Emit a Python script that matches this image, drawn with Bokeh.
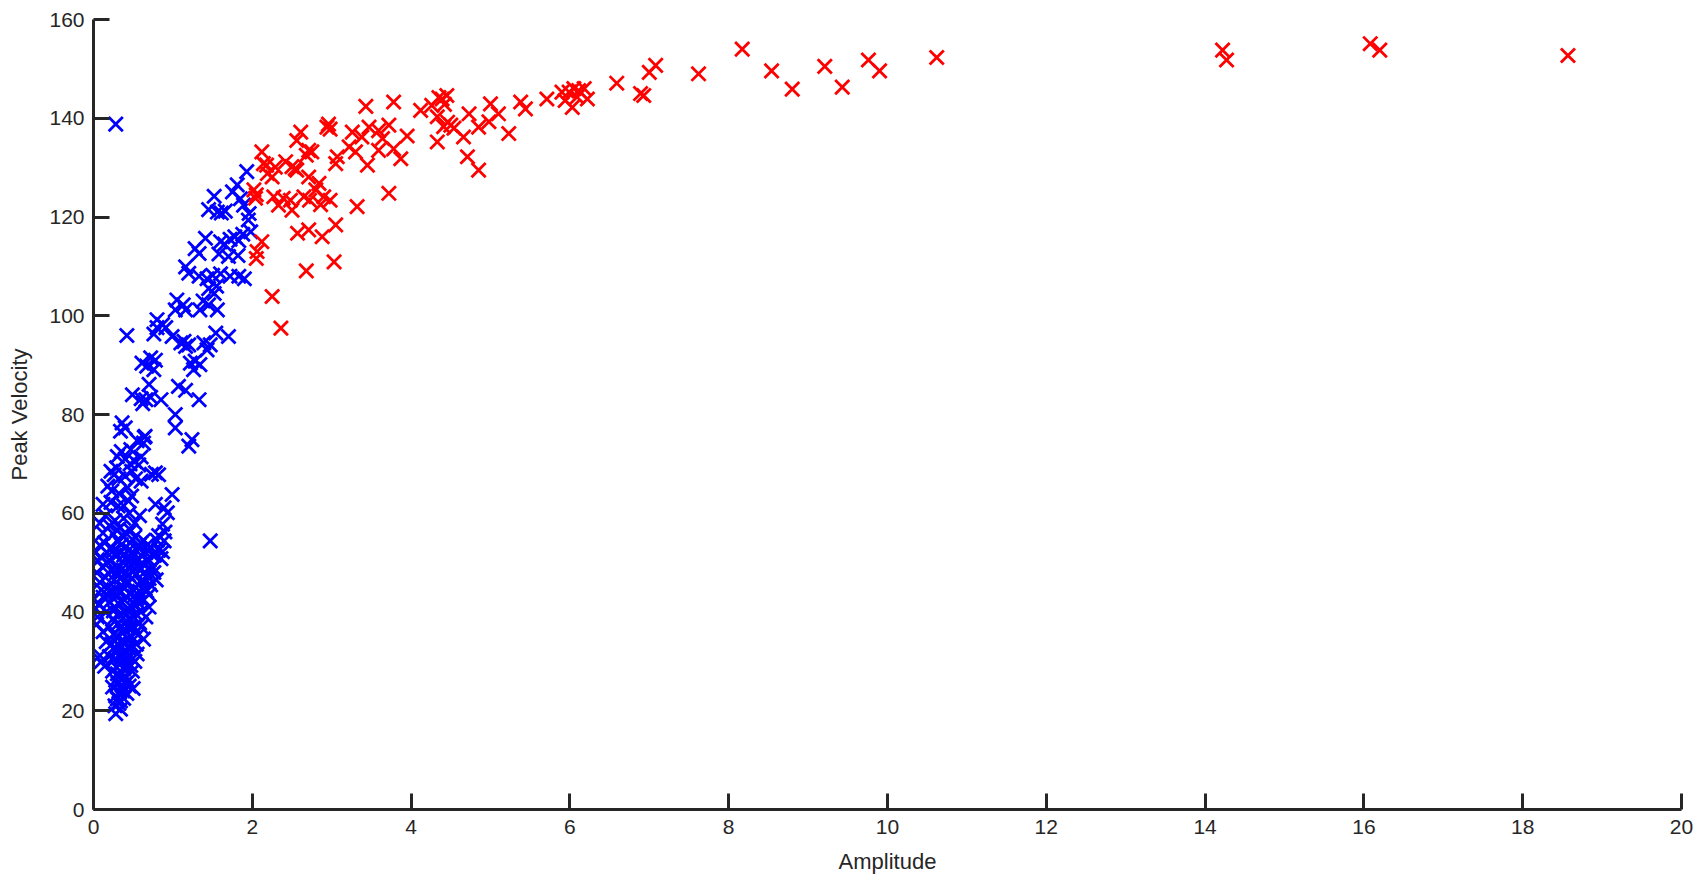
from bokeh.plotting import figure
from bokeh.models import Range1d, FixedTicker
from bokeh.embed import file_html
from bokeh.resources import INLINE

# ---- tick labels ----
x_ticks = [0, 2, 4, 6, 8, 10, 12, 14, 16, 18, 20]
y_ticks = [0, 20, 40, 60, 80, 100, 120, 140, 160]

# ---- blue group: (amplitude, peak velocity) ----
blue_low = [
    (0.24, 24.8), (0.28, 23.0), (0.31, 25.5), (0.34, 22.0), (0.37, 24.0), (0.40, 25.5),
    (0.45, 25.0), (0.30, 22.4), (0.34, 20.3), (0.28, 19.4), (0.32, 21.5), (0.38, 22.5),
    (0.27, 21.0), (0.42, 23.5), (0.50, 24.5),
    (0.08, 31.2), (0.10, 30.0), (0.14, 29.0), (0.20, 31.0), (0.24, 28.0), (0.27, 30.5),
    (0.30, 27.5), (0.34, 29.5), (0.37, 31.5), (0.40, 27.0), (0.43, 29.5), (0.46, 31.0),
    (0.49, 28.0), (0.52, 30.0), (0.55, 31.5), (0.28, 26.2), (0.36, 26.5), (0.44, 26.0),
    (0.12, 36.0), (0.16, 34.0), (0.20, 37.0), (0.23, 33.5), (0.26, 35.5), (0.30, 37.5),
    (0.33, 33.0), (0.36, 36.0), (0.39, 34.0), (0.42, 37.0), (0.45, 32.5), (0.48, 35.0),
    (0.51, 37.0), (0.54, 33.5), (0.57, 35.5), (0.60, 37.0), (0.63, 34.5), (0.30, 32.0),
    (0.40, 32.3),
]
blue_core = [
    (0.29, 28.8), (0.33, 27.2), (0.38, 28.5), (0.42, 30.8), (0.47, 29.2), (0.35, 30.6),
    (0.31, 33.5), (0.37, 33.8), (0.43, 34.6), (0.50, 33.0), (0.28, 35.0), (0.35, 37.2),
    (0.40, 36.2), (0.46, 36.8), (0.53, 35.8), (0.25, 40.2), (0.31, 41.8), (0.37, 38.8),
    (0.43, 40.6), (0.49, 39.2), (0.55, 42.8), (0.34, 44.0), (0.40, 45.8), (0.46, 43.6),
    (0.52, 41.6), (0.58, 44.2), (0.28, 47.8), (0.34, 48.4), (0.44, 47.6), (0.50, 48.2),
    (0.55, 49.0), (0.64, 48.0), (0.38, 51.5), (0.48, 50.8), (0.58, 52.8), (0.68, 53.6),
    (0.45, 52.6), (0.35, 53.6), (0.25, 52.4), (0.72, 48.6), (0.67, 44.2), (0.60, 46.0),
    (0.52, 55.2), (0.42, 55.8), (0.30, 56.6), (0.33, 23.8), (0.36, 25.2), (0.40, 29.0),
    (0.26, 32.8), (0.22, 44.0), (0.18, 50.0), (0.16, 43.5), (0.60, 54.0), (0.70, 46.8),
    (0.74, 51.6),
]
blue_mid = [
    (0.00, 42.5), (0.02, 40.8), (0.05, 39.0), (0.08, 41.5), (0.12, 43.0), (0.16, 40.0),
    (0.20, 42.0), (0.24, 38.5), (0.27, 41.0), (0.30, 43.5), (0.33, 39.5), (0.36, 42.0),
    (0.39, 40.0), (0.42, 43.0), (0.45, 38.5), (0.48, 41.0), (0.51, 43.2), (0.54, 39.5),
    (0.57, 41.8), (0.60, 40.0), (0.63, 42.5), (0.66, 39.0), (0.70, 41.0), (0.04, 37.5),
    (0.58, 37.8),
    (0.04, 48.0), (0.08, 46.0), (0.12, 49.0), (0.15, 47.0), (0.19, 45.0), (0.22, 48.5),
    (0.26, 46.5), (0.29, 44.5), (0.32, 49.0), (0.35, 47.0), (0.38, 45.0), (0.41, 48.0),
    (0.44, 46.0), (0.47, 49.5), (0.50, 44.5), (0.53, 47.5), (0.56, 45.5), (0.59, 48.5),
    (0.62, 46.5), (0.65, 44.8), (0.68, 47.5), (0.72, 45.5), (0.76, 48.0), (0.79, 46.5),
    (0.10, 44.5), (0.70, 43.5),
    (0.02, 52.0), (0.05, 50.5), (0.08, 53.5), (0.10, 51.0), (0.14, 54.0), (0.17, 52.0),
    (0.20, 50.5), (0.23, 53.0), (0.27, 51.5), (0.30, 54.5), (0.33, 52.0), (0.36, 50.2),
    (0.40, 53.0), (0.43, 51.0), (0.46, 54.0), (0.50, 52.0), (0.54, 50.5), (0.57, 53.5),
    (0.60, 51.5), (0.63, 54.5), (0.66, 52.0), (0.70, 50.5), (0.73, 53.0), (0.77, 51.5),
    (0.80, 54.5), (0.82, 52.5), (0.85, 50.8), (0.89, 54.4), (0.82, 55.5), (0.62, 49.8),
    (0.75, 49.0), (0.87, 52.2),
]
blue_top = [
    (0.08, 58.0), (0.15, 59.5), (0.20, 57.5), (0.27, 58.5), (0.33, 57.0), (0.38, 59.0),
    (0.45, 60.0), (0.52, 58.0), (0.58, 59.5), (0.78, 61.8), (0.89, 61.1), (0.93, 60.1),
    (0.87, 57.8), (0.90, 56.2), (0.12, 56.0), (0.25, 55.8), (0.36, 55.5), (0.47, 56.5),
    (1.47, 54.4),
    (0.30, 71.5), (0.35, 72.5), (0.40, 71.0), (0.46, 70.0), (0.52, 70.5), (0.57, 69.8),
    (0.22, 68.5), (0.26, 67.8), (0.32, 67.0), (0.40, 67.5), (0.48, 68.5), (0.53, 67.0),
    (0.60, 66.5), (0.78, 68.2), (0.82, 67.8), (0.18, 65.5), (0.23, 64.5), (0.32, 64.0),
    (0.43, 65.2), (0.48, 63.5), (0.12, 61.8), (0.22, 62.2), (0.31, 61.5), (0.38, 61.5),
    (0.44, 62.5), (0.99, 63.8), (0.29, 69.2), (0.47, 72.9), (0.55, 74.7), (0.64, 75.4),
    (0.60, 71.4), (0.73, 67.9),
]
blue_high = [
    (0.36, 78.3), (0.40, 77.3), (0.34, 76.6), (0.65, 75.6), (0.63, 74.2),
    (1.24, 74.9), (1.20, 73.6), (1.03, 80.0), (1.03, 77.3),
    (0.49, 84.0), (0.60, 83.2), (0.66, 83.0), (0.62, 82.2), (0.72, 83.5), (0.85, 83.0),
    (0.70, 86.1), (1.07, 85.7), (1.16, 84.9), (1.33, 83.0),
    (0.61, 90.4), (0.67, 89.8), (0.72, 91.5), (0.78, 91.0), (0.76, 89.1),
    (1.22, 90.4), (1.28, 90.8), (1.34, 90.1), (1.26, 89.1),
    (0.42, 96.0), (0.99, 95.8), (1.10, 94.5), (1.14, 94.8), (1.16, 93.8), (1.20, 94.1),
    (1.39, 94.5), (1.43, 93.1), (1.47, 94.1), (1.54, 96.5), (1.70, 95.8),
    (0.80, 99.2), (0.87, 98.2), (0.80, 97.6), (0.76, 96.3), (0.91, 97.6),
    (1.03, 101.2), (1.16, 101.2), (1.34, 101.2), (1.45, 102.2), (1.56, 101.2),
    (1.05, 103.2), (1.13, 102.2), (1.38, 103.0), (1.52, 104.5), (1.45, 105.5), (1.55, 106.0),
    (1.16, 109.9), (1.20, 108.6), (1.33, 108.0), (1.43, 107.5), (1.50, 108.2), (1.60, 108.5),
    (1.72, 108.0), (1.83, 108.0), (1.90, 107.5),
    (1.41, 115.7), (1.28, 113.6), (1.33, 112.6), (1.60, 115.0), (1.65, 114.5), (1.72, 115.5),
    (1.78, 116.0), (1.83, 115.2), (1.88, 116.5), (1.58, 112.5), (1.70, 112.0), (1.82, 112.2),
    (1.98, 117.0), (1.95, 119.4), (1.96, 120.7), (1.45, 121.5), (1.56, 121.0), (1.61, 120.8),
    (1.66, 121.2), (1.85, 123.7), (1.89, 122.4), (1.52, 124.2), (1.75, 125.1), (1.81, 126.5),
    (1.93, 129.2), (0.28, 138.8),
]

# ---- red group: (amplitude, peak velocity) ----
red_near = [
    (2.61, 137.2), (2.56, 135.5), (2.94, 138.2), (2.98, 137.8), (2.96, 138.8),
    (2.71, 133.5), (2.68, 132.5), (2.75, 133.2), (2.12, 133.2), (2.14, 130.8),
    (2.18, 130.5), (2.29, 130.1), (2.42, 131.2), (2.54, 129.8), (2.56, 129.5), (2.50, 130.2),
    (2.25, 128.1), (2.19, 128.8), (2.71, 128.1), (2.84, 126.8), (2.80, 125.5),
    (2.02, 125.5), (2.05, 124.5), (2.04, 123.8), (2.27, 124.1), (2.33, 122.4),
    (2.48, 123.4), (2.50, 121.4), (2.65, 124.1), (2.72, 123.4), (2.90, 124.1),
    (2.98, 123.4), (2.86, 122.5), (2.39, 123.8),
    (2.57, 116.7), (2.71, 117.4), (2.88, 116.0), (3.05, 118.4), (2.12, 115.0),
    (2.06, 113.0), (2.05, 111.6), (2.68, 109.1), (3.03, 110.9), (2.25, 103.9), (2.36, 97.5),
]
red_mid = [
    (3.43, 142.4), (3.78, 143.3), (3.95, 136.4), (3.78, 133.8), (3.87, 131.8),
    (3.59, 133.5), (3.45, 130.5), (3.30, 133.2), (3.07, 132.2), (3.05, 130.8),
    (3.22, 134.2), (3.26, 137.2), (3.38, 136.2), (3.47, 138.2), (3.59, 137.5),
    (3.72, 138.6), (3.64, 135.9), (3.72, 124.8), (3.32, 122.1),
    (4.39, 143.9), (4.45, 144.6), (4.26, 142.6), (4.35, 144.2), (4.42, 142.8),
    (4.33, 140.3), (4.50, 138.6), (4.54, 138.0), (4.41, 138.3), (4.46, 139.2),
    (4.33, 135.2), (4.12, 141.6),
    (4.73, 140.9), (4.66, 136.2), (4.71, 132.2), (4.85, 129.5), (4.85, 138.2),
    (5.00, 142.9), (5.10, 140.9), (4.98, 139.3), (5.23, 136.9), (5.38, 143.3), (5.44, 141.9),
]
red_far = [
    (5.71, 143.9), (5.90, 145.3), (5.94, 143.6), (5.99, 145.3), (6.03, 142.2),
    (6.05, 146.0), (6.09, 144.3), (6.11, 145.6), (6.18, 146.0), (6.22, 143.9),
    (6.59, 147.1), (6.89, 145.0), (6.93, 144.6), (7.00, 149.3), (7.08, 150.7),
    (7.62, 149.0), (8.17, 154.0), (8.54, 149.6), (8.80, 145.9), (9.21, 150.5),
    (9.43, 146.3), (9.76, 151.8), (9.90, 149.6), (10.62, 152.3), (14.22, 153.8),
    (14.27, 151.8), (16.08, 155.1), (16.20, 153.8), (18.57, 152.7),
]

blue = blue_low + blue_core + blue_mid + blue_top + blue_high
red = red_near + red_mid + red_far

TEXT = "#262626"
FONT = "Liberation Sans"

p = figure(width=1698, height=876, output_backend="svg", toolbar_location=None,
           x_range=Range1d(0, 20), y_range=Range1d(0, 160),
           min_border_left=93, min_border_right=17, min_border_top=19,
           min_border_bottom=66, background_fill_color="white",
           border_fill_color="white")
p.outline_line_color = None
p.grid.visible = False

p.scatter([a for a, v in blue], [v for a, v in blue], marker="x", size=20,
          line_color="#0000FF", line_width=2.8)
p.scatter([a for a, v in red], [v for a, v in red], marker="x", size=20,
          line_color="#FF0000", line_width=2.8)

p.xaxis.ticker = FixedTicker(ticks=x_ticks)
p.yaxis.ticker = FixedTicker(ticks=y_ticks)
p.xaxis.axis_label = "Amplitude"
p.yaxis.axis_label = "Peak Velocity"
for ax in (p.xaxis, p.yaxis):
    ax.axis_line_width = 3
    ax.axis_line_color = TEXT
    ax.major_tick_line_width = 3
    ax.major_tick_line_color = TEXT
    ax.major_tick_in = 16
    ax.major_tick_out = 0
    ax.minor_tick_line_color = None
    ax.major_label_text_font = FONT
    ax.major_label_text_font_size = "21px"
    ax.major_label_text_color = TEXT
    ax.axis_label_text_font = FONT
    ax.axis_label_text_font_size = "22px"
    ax.axis_label_text_font_style = "normal"
    ax.axis_label_text_color = TEXT
p.xaxis.major_label_standoff = 10
p.xaxis.axis_label_standoff = 12
p.yaxis.major_label_standoff = 9
p.yaxis.axis_label_standoff = 14

open("out.html", "w").write(file_html(p, INLINE))
